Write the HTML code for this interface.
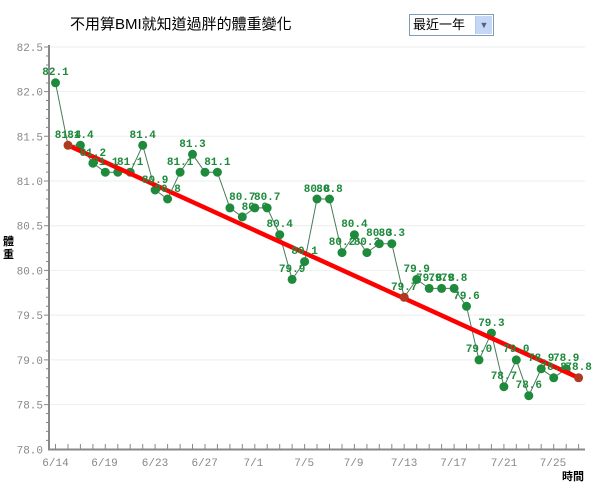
<!DOCTYPE html>
<html><head><meta charset="utf-8"><style>
body{margin:0;background:#fff;width:600px;height:495px;overflow:hidden;position:relative;font-family:"Liberation Sans","Noto Sans CJK TC",sans-serif}
.t{position:absolute;left:70px;top:13px;font-size:15px;color:#000}
.sel{position:absolute;left:409px;top:14px;border:1px solid #7f9db9;background:#fff;font-size:13px;line-height:20px;padding-left:3px;box-sizing:border-box;width:85px;height:22px}
.arr{position:absolute;right:1px;top:1px;width:16px;height:18px;background:#c6d6f5;border-left:1px solid #b8c8e8;color:#4d6185;font-size:9px;text-align:center;line-height:18px}
.yl{position:absolute;left:3px;top:236px;width:13px;font-size:11px;font-weight:bold;line-height:13px}
svg{position:absolute;left:0;top:0}
</style></head><body>
<div class="t">不用算BMI就知道過胖的體重變化</div>
<div class="sel">最近一年<div class="arr">&#9660;</div></div>
<svg width="600" height="495" font-family="Liberation Mono, monospace">
<g stroke="#eee" stroke-width="1">
<line x1="49" y1="47" x2="585" y2="47"/><line x1="49" y1="91.6" x2="585" y2="91.6"/><line x1="49" y1="136.3" x2="585" y2="136.3"/><line x1="49" y1="181" x2="585" y2="181"/><line x1="49" y1="225.7" x2="585" y2="225.7"/><line x1="49" y1="270.4" x2="585" y2="270.4"/><line x1="49" y1="315.1" x2="585" y2="315.1"/><line x1="49" y1="359.9" x2="585" y2="359.9"/><line x1="49" y1="404.6" x2="585" y2="404.6"/>
</g>
<path id="yt" stroke="#888" stroke-width="1" fill="none" d="M44 47h5M46 56h3M46 65h3M46 74h3M46 83h3M44 91.6h5M46 100.5h3M46 109.5h3M46 118.4h3M46 127.4h3M44 136.3h5M46 145.3h3M46 154.2h3M46 163.2h3M46 172.1h3M44 181h5M46 190h3M46 199h3M46 208h3M46 217h3M44 225.7h5M46 234.7h3M46 243.6h3M46 252.6h3M46 261.5h3M44 270.4h5M46 279.4h3M46 288.3h3M46 297.3h3M46 306.2h3M44 315.1h5M46 324h3M46 333h3M46 342h3M46 351h3M44 359.9h5M46 368.8h3M46 377.8h3M46 386.7h3M46 395.7h3M44 404.6h5M46 413.5h3M46 422.5h3M46 431.4h3M46 440.4h3"/>
<path stroke="#888" stroke-width="1" fill="none" d="M55.5 449v-5M68 449v-5M80.4 449v-5M92.9 449v-5M105.3 449v-5M117.8 449v-5M130.2 449v-5M142.7 449v-5M155.1 449v-5M167.6 449v-5M180.1 449v-5M192.5 449v-5M205 449v-5M217.4 449v-5M229.9 449v-5M242.3 449v-5M254.8 449v-5M267.2 449v-5M279.7 449v-5M292.1 449v-5M304.6 449v-5M317 449v-5M329.5 449v-5M342 449v-5M354.4 449v-5M366.9 449v-5M379.3 449v-5M391.8 449v-5M404.2 449v-5M416.7 449v-5M429.2 449v-5M441.6 449v-5M454.1 449v-5M466.5 449v-5M479 449v-5M491.4 449v-5M503.9 449v-5M516.3 449v-5M528.8 449v-5M541.2 449v-5M553.7 449v-5M566.2 449v-5M578.6 449v-5"/>
<g stroke="#888" stroke-width="2" fill="none">
<line x1="49" y1="45" x2="49" y2="450"/><line x1="48" y1="449.5" x2="585" y2="449.5"/>
</g>
<g font-size="11" fill="#888" text-anchor="end">
<text x="43" y="51">82.5</text><text x="43" y="95.6">82.0</text><text x="43" y="140.3">81.5</text><text x="43" y="185">81.0</text><text x="43" y="229.7">80.5</text><text x="43" y="274.4">80.0</text><text x="43" y="319.1">79.5</text><text x="43" y="363.9">79.0</text><text x="43" y="408.6">78.5</text><text x="43" y="453.3">78.0</text>
</g>
<g font-size="11" fill="#888" text-anchor="middle">
<text x="55.5" y="466">6/14</text><text x="104.5" y="466">6/19</text><text x="155" y="466">6/23</text><text x="204.7" y="466">6/27</text><text x="253.4" y="466">7/1</text><text x="304.2" y="466">7/5</text><text x="353.6" y="466">7/9</text><text x="404.1" y="466">7/13</text><text x="453.5" y="466">7/17</text><text x="504" y="466">7/21</text><text x="553" y="466">7/25</text>
</g>
<text x="573" y="480" font-size="11" font-weight="bold" text-anchor="middle" font-family="Liberation Sans, Noto Sans CJK TC, sans-serif">時間</text>
<polyline fill="none" stroke="#4a7a5a" stroke-width="1" points="55.5,82.8 68,145.3 80.4,145.3 92.9,163.2 105.3,172.2 117.8,172.2 130.2,172.2 142.7,145.3 155.1,190 167.6,199 180.1,172.2 192.5,154.3 205,172.2 217.4,172.2 229.9,207.9 242.3,216.9 254.8,207.9 267.2,207.9 279.7,234.7 292.1,279.4 304.6,261.6 317,199 329.5,199 342,252.6 354.4,234.7 366.9,252.6 379.3,243.7 391.8,243.7 404.2,297.3 416.7,279.4 429.2,288.4 441.6,288.4 454.1,288.4 466.5,306.3 479,359.9 491.4,333.1 503.9,386.7 516.3,359.9 528.8,395.7 541.2,368.8 553.7,377.8 566.2,368.8 578.6,377.8"/>
<g fill="#1e8a3c">
<circle cx="55.5" cy="82.8" r="4.5"/><circle cx="80.4" cy="145.3" r="4.5"/><circle cx="92.9" cy="163.2" r="4.5"/><circle cx="105.3" cy="172.2" r="4.5"/><circle cx="117.8" cy="172.2" r="4.5"/><circle cx="130.2" cy="172.2" r="4.5"/><circle cx="142.7" cy="145.3" r="4.5"/><circle cx="155.1" cy="190" r="4.5"/><circle cx="167.6" cy="199" r="4.5"/><circle cx="180.1" cy="172.2" r="4.5"/><circle cx="192.5" cy="154.3" r="4.5"/><circle cx="205" cy="172.2" r="4.5"/><circle cx="217.4" cy="172.2" r="4.5"/><circle cx="229.9" cy="207.9" r="4.5"/><circle cx="242.3" cy="216.9" r="4.5"/><circle cx="254.8" cy="207.9" r="4.5"/><circle cx="267.2" cy="207.9" r="4.5"/><circle cx="279.7" cy="234.7" r="4.5"/><circle cx="292.1" cy="279.4" r="4.5"/><circle cx="304.6" cy="261.6" r="4.5"/><circle cx="317" cy="199" r="4.5"/><circle cx="329.5" cy="199" r="4.5"/><circle cx="342" cy="252.6" r="4.5"/><circle cx="354.4" cy="234.7" r="4.5"/><circle cx="366.9" cy="252.6" r="4.5"/><circle cx="379.3" cy="243.7" r="4.5"/><circle cx="391.8" cy="243.7" r="4.5"/><circle cx="416.7" cy="279.4" r="4.5"/><circle cx="429.2" cy="288.4" r="4.5"/><circle cx="441.6" cy="288.4" r="4.5"/><circle cx="454.1" cy="288.4" r="4.5"/><circle cx="466.5" cy="306.3" r="4.5"/><circle cx="479" cy="359.9" r="4.5"/><circle cx="491.4" cy="333.1" r="4.5"/><circle cx="503.9" cy="386.7" r="4.5"/><circle cx="516.3" cy="359.9" r="4.5"/><circle cx="528.8" cy="395.7" r="4.5"/><circle cx="541.2" cy="368.8" r="4.5"/><circle cx="553.7" cy="377.8" r="4.5"/><circle cx="566.2" cy="368.8" r="4.5"/>
</g>
<line x1="68" y1="145.3" x2="578.6" y2="377.8" stroke="#f00" stroke-width="4.5" stroke-linecap="round"/>
<g fill="#b03a20"><circle cx="68" cy="145.3" r="4.5"/><circle cx="404.2" cy="297.3" r="4.5"/><circle cx="578.6" cy="377.8" r="4.5"/></g>
<g font-size="11" fill="#1e8a3c" text-anchor="middle" font-weight="bold">
<text x="55.5" y="75">82.1</text><text x="68" y="138">81.4</text><text x="80.4" y="138">81.4</text><text x="92.9" y="156">81.2</text><text x="105.3" y="165">81.1</text><text x="130.2" y="165">81.1</text><text x="142.7" y="138">81.4</text><text x="155.1" y="183">80.9</text><text x="167.6" y="192">80.8</text><text x="180.1" y="165">81.1</text><text x="192.5" y="147">81.3</text><text x="217.4" y="165">81.1</text><text x="242.3" y="200">80.7</text><text x="254.8" y="210">80.6</text><text x="267.2" y="200">80.7</text><text x="279.7" y="227">80.4</text><text x="292.1" y="272">79.9</text><text x="304.6" y="254">80.1</text><text x="317" y="192">80.8</text><text x="329.5" y="192">80.8</text><text x="342" y="245">80.2</text><text x="354.4" y="227">80.4</text><text x="366.9" y="245">80.2</text><text x="379.3" y="236">80.3</text><text x="391.8" y="236">80.3</text><text x="404.2" y="290">79.7</text><text x="416.7" y="272">79.9</text><text x="429.2" y="281">79.8</text><text x="441.6" y="281">79.8</text><text x="454.1" y="281">79.8</text><text x="466.5" y="299">79.6</text><text x="479" y="352">79.0</text><text x="491.4" y="326">79.3</text><text x="503.9" y="379">78.7</text><text x="516.3" y="352">79.0</text><text x="528.8" y="388">78.6</text><text x="541.2" y="361">78.9</text><text x="553.7" y="370">78.8</text><text x="566.2" y="361">78.9</text><text x="578.6" y="370">78.8</text>
</g>
</svg>
<div class="yl">體重</div>
</body></html>
